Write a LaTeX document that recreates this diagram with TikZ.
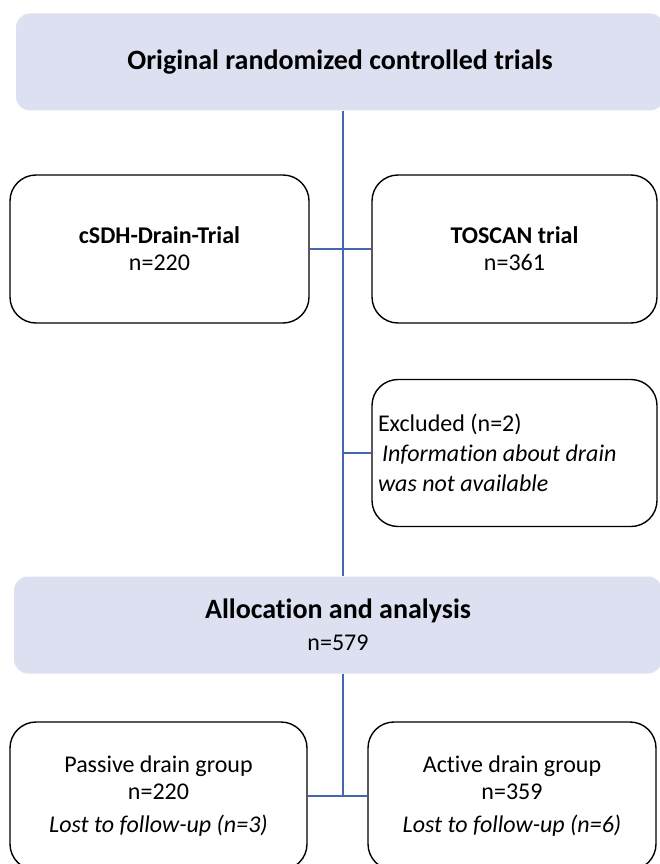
\documentclass[tikz,border=0pt]{standalone}
\usepackage{fontspec}
\setmainfont{Carlito}[Ligatures=NoCommon]
\usetikzlibrary{positioning}

\definecolor{stagefill}{HTML}{DCE0F1}
\definecolor{linkblue}{HTML}{4467B0}

\tikzset{
  stage/.style={fill=stagefill, rounded corners=14pt, minimum width=648pt, minimum height=97pt, align=center, font=\fontsize{28}{32}\selectfont},
  trial/.style={draw, line width=1.4pt, rounded corners=26pt, minimum height=148pt, align=center, font=\fontsize{24}{27}\selectfont},
  link/.style={draw=linkblue, line width=1.6pt}
}

\begin{document}
\begin{tikzpicture}[x=1pt,y=-1pt]

                \useasboundingbox (0,0) rectangle (660,864);
                \clip (0,0) rectangle (660,864);
                \coordinate (spine) at (343,0);

                % Stage boxes
                \node[stage] (orig) at (340,62) {\textbf{Original randomized controlled trials}};
                \node[stage] (alloc) at (338,625) {\textbf{Allocation and analysis}\\{\fontsize{24}{27}\selectfont n=579}};

                % Trial boxes
                \node[trial, minimum width=299pt] (drain) at (159.5,249) {\textbf{cSDH-Drain-Trial}\\n=220};
                \node[trial, minimum width=285pt] (toscan) at (514.5,249) {\textbf{TOSCAN trial}\\n=361};
                \node[trial, minimum width=285pt, minimum height=147pt, inner xsep=6pt, text width=273pt, align=left,
                      font=\fontsize{24}{30}\selectfont] (excl) at (514.5,453)
                    {\spaceskip=0pt Excluded (n=2)\\\hspace*{4pt}\textit{Information about drain}\\\textit{was not available}};

                % Group boxes
                \node[trial, minimum width=297pt] (passive) at (158.5,796) {Passive drain group\\n=220\\[6pt]\textit{Lost to follow-up (n=3)}};
                \node[trial, minimum width=288pt] (active) at (512,796) {Active drain group\\n=359\\[6pt]\textit{Lost to follow-up (n=6)}};

                % Connectors
                \draw[link] (orig.south -| spine) -- (alloc.north -| spine);
                \draw[link] (drain.east) -- (toscan.west);
                \draw[link] (excl.west) -- (excl.west -| spine);
                \draw[link] (alloc.south -| spine) -- (passive.east -| spine);
                \draw[link] (passive.east) -- (active.west);

            \end{tikzpicture}
\end{document}
